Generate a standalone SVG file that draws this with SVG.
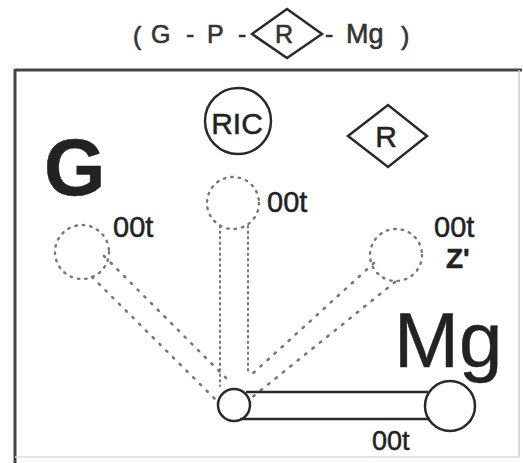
<svg xmlns="http://www.w3.org/2000/svg" width="523" height="463" viewBox="0 0 523 463">
<style>
text{font-family:"Liberation Sans",Arial,sans-serif;fill:#222;stroke:#222;stroke-width:0.5}
.t{font-size:25px;fill:#333;stroke:#333;stroke-width:0.6}
.lbl{font-size:29px}
.solid{fill:none;stroke:#2a2a2a;stroke-width:2.5}
.dotc{fill:none;stroke:#777;stroke-width:2.4;stroke-dasharray:1.5 6;stroke-linecap:round}
.dotd{fill:none;stroke:#777;stroke-width:2.6;stroke-dasharray:1.5 8;stroke-linecap:round}
.dotv{fill:none;stroke:#777;stroke-width:2;stroke-dasharray:1.5 4;stroke-linecap:round}
</style>
<rect width="523" height="463" fill="#fff"/>
<g id="title">
<text class="t" x="133" y="45">(</text>
<text class="t" x="151" y="43">G</text>
<text class="t" x="186" y="43">-</text>
<text class="t" x="207" y="43">P</text>
<text class="t" x="238" y="43">-</text>
<polygon class="solid" points="252,34 287,9 322,34 287,58"/>
<text class="t" x="284" y="43" text-anchor="middle">R</text>
<text class="t" x="325" y="43">-</text>
<text class="t" x="346" y="43" style="font-size:27px">Mg</text>
<text class="t" x="401" y="45">)</text>
</g>
<g id="frame">
<line x1="15" y1="70" x2="522" y2="70" stroke="#444" stroke-width="3"/>
<line x1="15" y1="69" x2="15" y2="463" stroke="#444" stroke-width="3"/>
<line x1="519" y1="70" x2="519" y2="458" stroke="#ccc" stroke-width="1.5"/>
<line x1="15" y1="457" x2="519" y2="457" stroke="#ddd" stroke-width="1.5"/>
</g>
<g id="connectors">
<line class="dotd" x1="104" y1="256" x2="226" y2="378"/>
<line class="dotd" x1="92" y1="277" x2="216" y2="400"/>
<line class="dotv" x1="220" y1="226" x2="220" y2="386"/>
<line class="dotv" x1="248" y1="226" x2="248" y2="374"/>
<line class="dotd" x1="374" y1="263" x2="250" y2="376"/>
<line class="dotd" x1="395" y1="282" x2="250" y2="399"/>
</g>
<g id="node-RIC">
<circle class="solid" cx="238" cy="121" r="33"/>
<text x="237" y="134" text-anchor="middle" style="font-size:30px">RIC</text>
</g>
<g id="node-R">
<polygon class="solid" points="348,136 388,105 427,136 388,167"/>
<text x="386" y="147" text-anchor="middle" style="font-size:30px">R</text>
</g>
<g id="node-G">
<text x="44" y="195" style="font-size:79px;font-weight:bold">G</text>
</g>
<g id="node-Mg">
<text x="394" y="367" style="font-size:78px">Mg</text>
</g>
<g id="node-left">
<circle class="dotc" cx="82" cy="252" r="27"/>
<text class="lbl" x="113" y="237">00t</text>
</g>
<g id="node-top">
<circle class="dotc" cx="233" cy="203" r="26"/>
<text class="lbl" x="267" y="212">00t</text>
</g>
<g id="node-right">
<circle class="dotc" cx="396" cy="255" r="26"/>
<text class="lbl" x="434" y="237">00t</text>
<text x="446" y="268" style="font-size:28px;font-weight:bold">Z'</text>
</g>
<g id="node-bar">
<line class="solid" x1="246" y1="392" x2="428" y2="392"/>
<line class="solid" x1="240" y1="419" x2="430" y2="419"/>
<circle class="solid" cx="234" cy="405" r="16" fill="#fff"/>
<circle class="solid" cx="450" cy="406" r="25" fill="#fff"/>
<text x="372" y="450" style="font-size:27px">00t</text>
</g>
</svg>
